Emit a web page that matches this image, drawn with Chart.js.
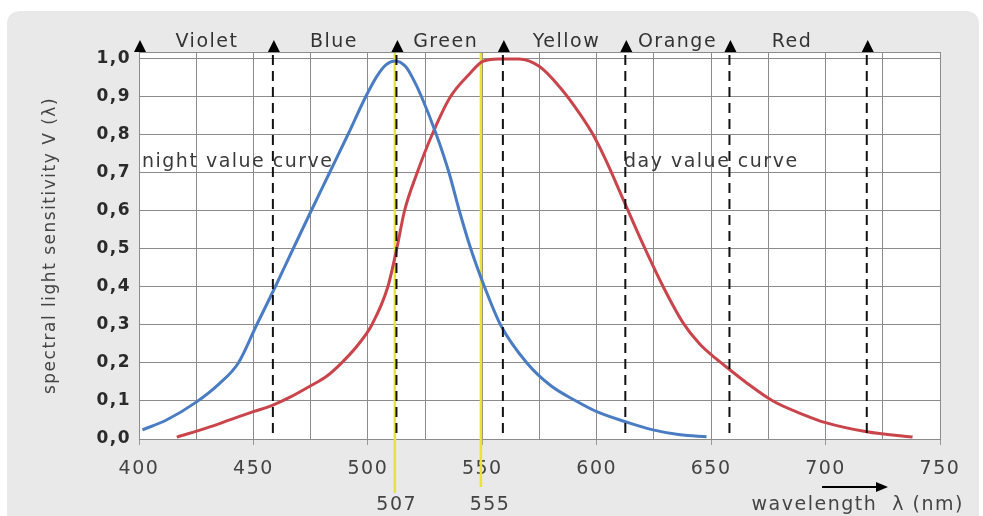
<!DOCTYPE html>
<html><head><meta charset="utf-8">
<script src="https://cdn.jsdelivr.net/npm/chart.js@4/dist/chart.umd.min.js"></script>
<style>html,body{margin:0;padding:0;background:#fff;}canvas{display:block;}</style>
</head><body>
<canvas id="c" width="983" height="516"></canvas>
<script>
// ---- data ----
const nightWavelengths = [401.5, 412, 425, 435, 443.4, 451.4, 459.5, 467.3, 475.2, 483.2, 491.2, 499, 504, 508, 512, 516.5, 520, 523.5, 530, 535.5, 540, 545, 551, 558, 569.5, 580, 591, 600, 612.3, 624.6, 636.4, 648];
const nightValues      = [0.024, 0.05, 0.097, 0.145, 0.2, 0.3, 0.4, 0.5, 0.6, 0.7, 0.8, 0.9, 0.955, 0.985, 0.995, 0.98, 0.945, 0.9, 0.8, 0.7, 0.6, 0.5, 0.4, 0.3, 0.2, 0.14, 0.1, 0.072, 0.046, 0.024, 0.011, 0.006];
const dayWavelengths = [416.5, 430, 440, 450, 458, 466, 475, 482, 489.3, 496, 501.7, 508.7, 512.6, 516, 521.5, 528, 536, 544.6, 550, 557, 566, 575, 584, 592.7, 598.5, 604.3, 611.6, 620.4, 629.1, 637.8, 645, 652, 658, 665, 677, 690, 700, 718, 738];
const dayValues      = [0.005, 0.03, 0.051, 0.072, 0.088, 0.11, 0.14, 0.165, 0.205, 0.25, 0.3, 0.4, 0.5, 0.6, 0.7, 0.8, 0.9, 0.962, 0.993, 1.0, 1.0, 0.98, 0.925, 0.855, 0.8, 0.73, 0.63, 0.51, 0.4, 0.305, 0.25, 0.212, 0.183, 0.15, 0.1, 0.065, 0.043, 0.019, 0.005];

const xGridValues = [400, 425, 450, 475, 500, 525, 550, 575, 600, 625, 650, 675, 700, 725, 750];
const xTickLabels = ['400', '450', '500', '550', '600', '650', '700', '750'];
const yTickValues = [0, 0.1, 0.2, 0.3, 0.4, 0.5, 0.6, 0.7, 0.8, 0.9, 1.0];
const yTickLabels = ['0,0', '0,1', '0,2', '0,3', '0,4', '0,5', '0,6', '0,7', '0,8', '0,9', '1,0'];

const bandNames = ['Violet', 'Blue', 'Green', 'Yellow', 'Orange', 'Red'];
const bandLabelNm = [429.7, 485.2, 534, 586.8, 635.3, 685.3];
const bandBoundaryNm = [400, 458.5, 512.5, 559, 612.5, 658, 718];

const peakLabels = ['507', '555'];
const peakLineNm = [511.8, 549.4];
const peakLabelNm = [512.6, 553.4];

const curveLabels = ['night value curve', 'day value curve'];
const curveLabelNm = [401.3, 611.9];
const curveLabelValue = [0.716, 0.716];

const yTitle = 'spectral light sensitivity V (λ)';
const xTitle = 'wavelength  λ (nm)';

// ---- drawing ----
const FONT = '"DejaVu Sans", sans-serif';
Chart.defaults.font.family = FONT;

function roundRectPath(ctx, x, y, w, h, r) {
  ctx.beginPath();
  ctx.moveTo(x + r, y);
  ctx.lineTo(x + w - r, y);
  ctx.quadraticCurveTo(x + w, y, x + w, y + r);
  ctx.lineTo(x + w, y + h - r);
  ctx.quadraticCurveTo(x + w, y + h, x + w - r, y + h);
  ctx.lineTo(x + r, y + h);
  ctx.quadraticCurveTo(x, y + h, x, y + h - r);
  ctx.lineTo(x, y + r);
  ctx.quadraticCurveTo(x, y, x + r, y);
  ctx.closePath();
}

const decor = {
  id: 'decor',
  beforeDraw(chart) {
    const ctx = chart.ctx, a = chart.chartArea;
    ctx.save();
    ctx.fillStyle = '#ffffff';
    ctx.fillRect(0, 0, chart.width, chart.height);
    ctx.fillStyle = '#e9e9e9';
    roundRectPath(ctx, 7, 11, 972, 530, 14);
    ctx.fill();
    ctx.fillStyle = '#ffffff';
    ctx.fillRect(a.left, a.top, a.right - a.left, a.bottom - a.top);
    ctx.restore();
    ctx.letterSpacing = '1.5px';
  },
  beforeDatasetsDraw(chart) {
    const ctx = chart.ctx, a = chart.chartArea, xs = chart.scales.x;
    ctx.save();
    ctx.strokeStyle = '#e8e23c';
    ctx.lineWidth = 2.5;
    const ends = [a.bottom + 54, a.bottom + 48];
    peakLineNm.forEach((nm, i) => {
      const px = xs.getPixelForValue(nm);
      ctx.beginPath();
      ctx.moveTo(px, a.top);
      ctx.lineTo(px, ends[i]);
      ctx.stroke();
    });
    ctx.restore();
  },
  afterDatasetsDraw(chart) {
    const ctx = chart.ctx, a = chart.chartArea, xs = chart.scales.x;
    ctx.save();
    ctx.strokeStyle = '#8c8c8c';
    ctx.lineWidth = 1;
    ctx.beginPath();
    ctx.moveTo(a.left, a.top + 0.5);
    ctx.lineTo(a.right, a.top + 0.5);
    ctx.stroke();
    ctx.strokeStyle = '#111';
    ctx.lineWidth = 2;
    ctx.setLineDash([10, 6]);
    bandBoundaryNm.slice(1).forEach(nm => {
      const px = xs.getPixelForValue(nm);
      ctx.beginPath();
      ctx.moveTo(px, a.top + 3);
      ctx.lineTo(px, a.bottom);
      ctx.stroke();
    });
    ctx.restore();
  },
  afterDraw(chart) {
    const ctx = chart.ctx, a = chart.chartArea, xs = chart.scales.x, ys = chart.scales.y;
    ctx.save();
    ctx.letterSpacing = '1.5px';
    ctx.fillStyle = '#000';
    bandBoundaryNm.forEach(nm => {
      const px = xs.getPixelForValue(nm) + 1;
      ctx.beginPath();
      ctx.moveTo(px - 6, a.top);
      ctx.lineTo(px + 6, a.top);
      ctx.lineTo(px, a.top - 12);
      ctx.closePath();
      ctx.fill();
    });
    ctx.fillStyle = '#333';
    ctx.font = '19px ' + FONT;
    ctx.textAlign = 'center';
    ctx.textBaseline = 'alphabetic';
    bandNames.forEach((n, i) => {
      ctx.fillText(n, xs.getPixelForValue(bandLabelNm[i]), a.top - 5);
    });
    ctx.fillStyle = '#3a3a3a';
    ctx.textAlign = 'left';
    curveLabels.forEach((t, i) => {
      ctx.fillText(t, xs.getPixelForValue(curveLabelNm[i]), ys.getPixelForValue(curveLabelValue[i]));
    });
    ctx.fillStyle = '#444';
    ctx.textAlign = 'center';
    peakLabels.forEach((t, i) => {
      ctx.fillText(t, xs.getPixelForValue(peakLabelNm[i]), a.bottom + 71);
    });
    ctx.textAlign = 'right';
    ctx.fillText(xTitle, a.right + 24, a.bottom + 71);
    const ay = a.bottom + 48;
    ctx.strokeStyle = '#000';
    ctx.lineWidth = 2;
    ctx.beginPath();
    ctx.moveTo(a.right - 118, ay);
    ctx.lineTo(a.right - 60, ay);
    ctx.stroke();
    ctx.fillStyle = '#000';
    ctx.beginPath();
    ctx.moveTo(a.right - 52, ay);
    ctx.lineTo(a.right - 64, ay - 5);
    ctx.lineTo(a.right - 64, ay + 5);
    ctx.closePath();
    ctx.fill();
    ctx.restore();
  }
};

const gridColor = '#8c8c8c';

new Chart(document.getElementById('c'), {
  type: 'line',
  data: {
    datasets: [
      {
        label: 'night value curve',
        data: nightWavelengths.map((x, i) => ({ x, y: nightValues[i] })),
        borderColor: '#4a7cc3',
        borderWidth: 3,
        pointRadius: 0,
        fill: false,
        cubicInterpolationMode: 'monotone'
      },
      {
        label: 'day value curve',
        data: dayWavelengths.map((x, i) => ({ x, y: dayValues[i] })),
        borderColor: '#c9454b',
        borderWidth: 3,
        pointRadius: 0,
        fill: false,
        cubicInterpolationMode: 'monotone'
      }
    ]
  },
  options: {
    responsive: false,
    animation: false,
    layout: { padding: { left: 0, right: 43, top: 52, bottom: 0 } },
    plugins: { legend: { display: false }, tooltip: { enabled: false } },
    scales: {
      x: {
        type: 'linear',
        min: 400,
        max: 750,
        afterBuildTicks: s => { s.ticks = xGridValues.map(v => ({ value: v })); },
        afterFit: s => { s.height = 77; },
        grid: {
          color: gridColor,
          lineWidth: 1,
          drawTicks: true,
          tickLength: 6,
          tickColor: c => (c.tick && xTickLabels.includes(String(c.tick.value))) ? '#9a9a9a' : 'rgba(0,0,0,0)'
        },
        border: { display: true, color: gridColor },
        ticks: {
          autoSkip: false,
          maxRotation: 0,
          padding: 13,
          color: '#444',
          font: { size: 19 },
          callback: v => xTickLabels.includes(String(v)) ? String(v) : ''
        }
      },
      y: {
        type: 'linear',
        min: 0,
        max: 1.0184,
        afterBuildTicks: s => { s.ticks = yTickValues.map(v => ({ value: v })); },
        afterFit: s => { s.width = 139; },
        grid: { color: gridColor, lineWidth: 1, drawTicks: false },
        border: { display: true, color: gridColor },
        ticks: {
          padding: 8,
          color: '#2a2a2a',
          font: { size: 17, weight: 'bold' },
          callback: v => yTickLabels[yTickValues.indexOf(Math.round(v * 10) / 10)]
        },
        title: {
          display: true,
          text: yTitle,
          color: '#444',
          font: { size: 17 },
          padding: { top: 40, bottom: 0 }
        }
      }
    }
  },
  plugins: [decor]
});
</script>
</body></html>
